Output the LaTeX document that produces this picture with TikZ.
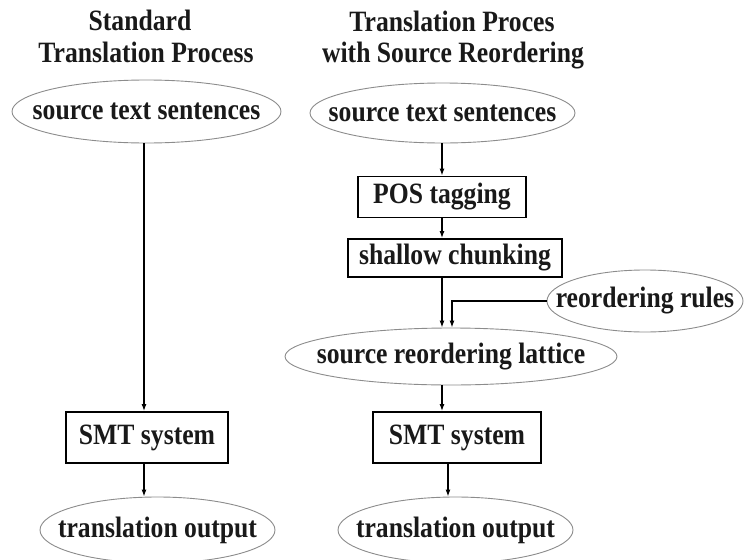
\documentclass[tikz,border=0pt]{standalone}
\usepackage{fontspec}
\setmainfont[FakeStretch=0.87]{Liberation Serif}
\usetikzlibrary{shapes.geometric,arrows.meta}
\newcommand{\zw}[1]{\makebox[0pt]{#1}}
\begin{document}
\begin{tikzpicture}[x=1pt,y=-1pt,
  every node/.style={font=\fontsize{29.5}{32}\selectfont\bfseries, text=black!90},
  ell/.style={ellipse, draw=black!45, line width=0.9pt, inner sep=0pt},
  box/.style={rectangle, draw=black, line width=1.8pt, inner sep=0pt},
  arr/.style={line width=1.3pt, -{Latex[length=7pt,width=5pt]}},
  ln/.style={line width=1.3pt}]
\useasboundingbox[fill=white] (0,0) rectangle (745,560);
% titles
\node[anchor=base] (tl1) at (140,30) {Standard};
\node[anchor=base] (tl2) at (146,62) {Translation Process};
\node[anchor=base] (tr1) at (452,31) {Translation Proces};
\node[anchor=base] (tr2) at (453,62) {with Source Reordering};
% left column
\node[ell, minimum width=269pt, minimum height=63pt] (src1) at (146.5,111.5) {\zw{source text sentences}};
\node[box, minimum width=162pt, minimum height=51pt] (smt1) at (147,437.5) {SMT system};
\node[ell, minimum width=235pt, minimum height=66pt] (out1) at (157.5,530) {\zw{translation output}};
% right column
\node[ell, minimum width=265pt, minimum height=60pt] (src2) at (442.5,113) {\zw{source text sentences}};
\node[box, minimum width=168pt, minimum height=41pt] (pos) at (442,197) {POS tagging};
\node[box, minimum width=214pt, minimum height=38pt] (chunk) at (455,258) {shallow chunking};
\node[ell, minimum width=196pt, minimum height=62pt] (rules) at (645,301) {\zw{reordering rules}};
\node[ell, minimum width=332pt, minimum height=57pt] (lat) at (451,356.5) {\zw{source reordering lattice}};
\node[box, minimum width=168pt, minimum height=51pt] (smt2) at (457,437.5) {SMT system};
\node[ell, minimum width=235pt, minimum height=66pt] (out2) at (455.5,530) {\zw{translation output}};
% column x positions
\coordinate (cL) at (144,0);
\coordinate (cR) at (442,0);
\coordinate (cR2) at (452,0);
\coordinate (cR3) at (448,0);
% connectors
\draw[arr] (src1.south -| cL) -- (smt1.north -| cL);
\draw[arr] (smt1.south -| cL) -- (out1.north -| cL);
\draw[arr] (src2.south -| cR) -- (pos.north -| cR);
\draw[arr] (pos.south -| cR) -- (chunk.north -| cR);
\draw[arr] (chunk.south -| cR) -- (lat.north -| cR);
\draw[arr] (rules.west) -- (rules.west -| cR2) -- (lat.north -| cR2);
\draw[arr] (lat.south -| cR) -- (smt2.north -| cR);
\draw[arr] (smt2.south -| cR3) -- (out2.north -| cR3);
\end{tikzpicture}
\end{document}
